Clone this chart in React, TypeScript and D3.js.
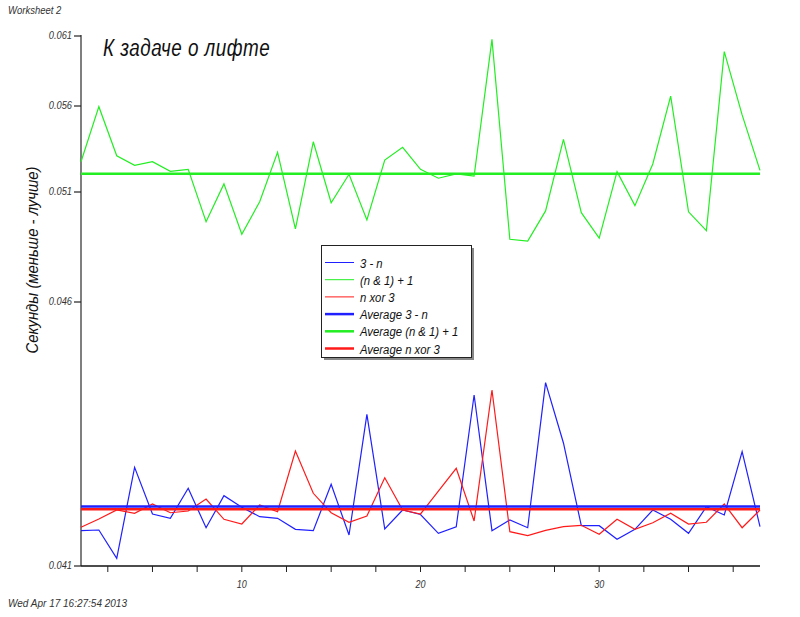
import * as d3 from "d3";
import React from "react";

// x positions 1..39 (test number)
const runs = d3.range(1, 40);

const threeMinusN = [
  0.041669, 0.041682, 0.041146, 0.042869, 0.041985, 0.041903, 0.042472, 0.041725,
  0.042331, 0.042112, 0.041934, 0.041903, 0.041695, 0.041669, 0.042547, 0.041587,
  0.043873, 0.041701, 0.042061, 0.041975, 0.041619, 0.041744, 0.044239, 0.041669,
  0.041871, 0.041725, 0.044472, 0.04333, 0.041763, 0.041763, 0.041506, 0.041695,
  0.042061, 0.041884, 0.041619, 0.042123, 0.041966, 0.043165, 0.041744,
];

const andPlusOne = [
  0.05276, 0.05596, 0.05311, 0.05255, 0.05276, 0.0522, 0.05232, 0.04965,
  0.05147, 0.04908, 0.05056, 0.05331, 0.04932, 0.05392, 0.05051, 0.05203,
  0.04973, 0.05286, 0.0536, 0.05232, 0.0518, 0.05205, 0.05193, 0.06076,
  0.04885, 0.04877, 0.05014, 0.05406, 0.05006, 0.0489, 0.05218, 0.05038,
  0.05263, 0.05671, 0.0501, 0.04924, 0.05988, 0.05548, 0.05226,
];

const xorThree = [
  0.041733, 0.04189, 0.042061, 0.041998, 0.042174, 0.042009, 0.042042, 0.042269,
  0.041884, 0.041795, 0.042155, 0.042028, 0.043178, 0.042377, 0.042009, 0.041828,
  0.041947, 0.042672, 0.042061, 0.041985, 0.04242, 0.04285, 0.041852, 0.044333,
  0.04165, 0.041574, 0.041676, 0.041744, 0.041771, 0.0416, 0.041884, 0.041695,
  0.04182, 0.041998, 0.041795, 0.041828, 0.042174, 0.041725, 0.042061,
];

const averages = [0.042127, 0.05206, 0.042076];

const yTicks = [0.041, 0.046, 0.051, 0.056, 0.061];
const xTicks = d3.range(2.5, 39, 2.5);
const xLabels = [10, 20, 30];

const seriesNames = ["3 - n", "(n & 1) + 1", "n xor 3"];
const colors = ["#2020ff", "#22ee22", "#ff1a1a"];

const FONT = "'Liberation Sans', 'DejaVu Sans', sans-serif";

// the original uses a narrow italic font; squeeze a normal one horizontally
type CTextProps = {
  x: number;
  y: number;
  size: number;
  squeeze?: number;
  spacing?: number;
  anchor?: "start" | "middle" | "end";
  rotate?: number;
  fill?: string;
  children: React.ReactNode;
};

const CText: React.FC<CTextProps> = ({
  x,
  y,
  size,
  squeeze = 1,
  spacing = 0,
  anchor = "start",
  rotate = 0,
  fill = "#222",
  children,
}) => (
  <text
    transform={`translate(${x},${y}) rotate(${rotate}) scale(${squeeze},1)`}
    textAnchor={anchor}
    fontFamily={FONT}
    fontStyle="italic"
    fontSize={size}
    letterSpacing={spacing}
    fill={fill}
  >
    {children}
  </text>
);

const App: React.FC = () => {
  const left = 81;
  const right = 760;
  const bottom = 566;

  const x = d3.scaleLinear().domain([1, 39]).range([left, right]);
  // the y axis of the original is not linear: map each labelled tick to its place
  const y = d3.scaleLinear().domain(yTicks).range([566, 302, 192, 106, 36]);

  const line = d3
    .line<number>()
    .x((_, i) => x(runs[i]))
    .y((d) => y(d));

  const data = [threeMinusN, andPlusOne, xorThree];
  const legendRows = [
    ...seriesNames.map((n, i) => ({ label: n, color: colors[i], width: 1 })),
    ...seriesNames.map((n, i) => ({ label: `Average ${n}`, color: colors[i], width: 2.5 })),
  ];

  return (
    <div style={{ position: "absolute", left: 0, top: 0 }}>
      <svg width={800} height={617} style={{ display: "block", background: "#fff" }}>
        <CText x={8} y={14} size={10} squeeze={0.95} fill="#333">
          Worksheet 2
        </CText>
        <CText x={8} y={607} size={10} fill="#333">
          Wed Apr 17 16:27:54 2013
        </CText>
        <CText x={103} y={56} size={23} squeeze={0.82} spacing={0.6} fill="#111">
          К задаче о лифте
        </CText>

        {/* y axis */}
        <line x1={left} x2={left} y1={35} y2={bottom} stroke="#555" strokeWidth={1.5} />
        {yTicks.map((t) => (
          <g key={t}>
            <line x1={left - 7} x2={left} y1={y(t)} y2={y(t)} stroke="#222" strokeWidth={1.2} />
            <CText x={left - 9} y={y(t) + 3} size={10} squeeze={0.93} anchor="end" fill="#333">
              {t.toFixed(3)}
            </CText>
          </g>
        ))}
        <CText x={38} y={260} size={16} squeeze={0.93} anchor="middle" rotate={-90} fill="#111">
          Секунды (меньше - лучше)
        </CText>

        {/* x axis */}
        <line x1={left} x2={right} y1={bottom} y2={bottom} stroke="#111" strokeWidth={1.5} />
        {xTicks.map((t) => (
          <line key={t} x1={x(t)} x2={x(t)} y1={bottom} y2={bottom + 6} stroke="#222" strokeWidth={1} />
        ))}
        {xLabels.map((t) => (
          <CText key={t} x={x(t)} y={bottom + 22} size={10} squeeze={0.9} anchor="middle" fill="#333">
            {t}
          </CText>
        ))}

        {/* series */}
        {data.map((d, i) => (
          <path key={i} d={line(d) ?? ""} fill="none" stroke={colors[i]} strokeWidth={1.2} />
        ))}
        {averages.map((a, i) => (
          <line
            key={i}
            x1={left}
            x2={right}
            y1={y(a)}
            y2={y(a)}
            stroke={colors[i]}
            strokeWidth={2.5}
          />
        ))}

        {/* legend */}
        <rect x={324} y={248} width={150} height={112} fill="#888" />
        <rect x={321.5} y={245.5} width={150} height={112} fill="#fff" stroke="#222" strokeWidth={1} />
        {legendRows.map((r, i) => {
          const ry = 262.5 + i * 17.2;
          return (
            <g key={r.label}>
              <line x1={325} x2={354} y1={ry} y2={ry} stroke={r.color} strokeWidth={r.width} />
              <CText x={360} y={ry + 5} size={13.5} squeeze={0.84} fill="#111">
                {r.label}
              </CText>
            </g>
          );
        })}
      </svg>
    </div>
  );
};

export default App;
